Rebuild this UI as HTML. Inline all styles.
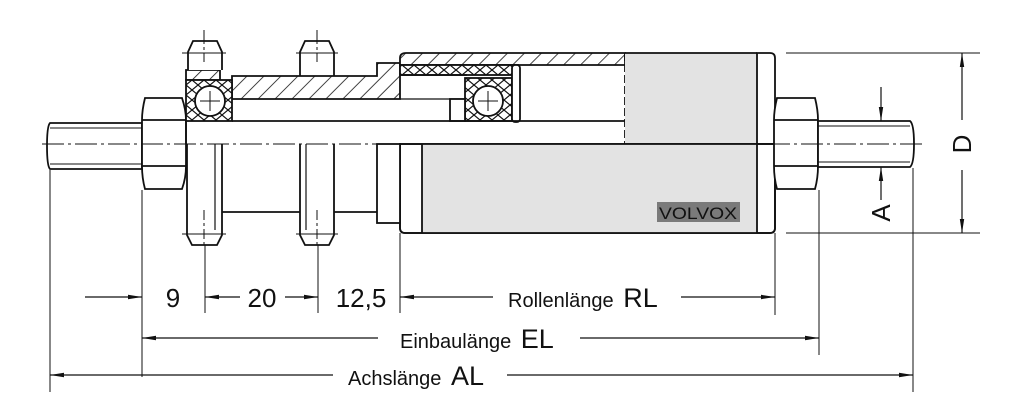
<!DOCTYPE html>
<html><head><meta charset="utf-8"><style>
html,body{margin:0;padding:0;background:#fff;width:1024px;height:414px;overflow:hidden}
svg{display:block}
text{font-family:"Liberation Sans",Arial,sans-serif;fill:#111}
</style></head><body>
<svg width="1024" height="414" viewBox="0 0 1024 414" xmlns="http://www.w3.org/2000/svg">
<defs>
<pattern id="h" width="12" height="12" patternUnits="userSpaceOnUse" patternTransform="rotate(45)">
<rect width="12" height="12" fill="#fff"/><line x1="0" y1="0" x2="0" y2="12" stroke="#111" stroke-width="1.6"/></pattern>
<pattern id="x" width="12" height="10" patternUnits="userSpaceOnUse">
<rect width="12" height="10" fill="#fff"/><path d="M0 0L12 10M12 0L0 10" stroke="#111" stroke-width="1.2"/></pattern>
<marker id="ar" markerWidth="14" markerHeight="6" refX="14" refY="3" orient="auto" markerUnits="userSpaceOnUse"><path d="M0 0.8L14 3L0 5.2Z" fill="#111"/></marker>
</defs>
<g stroke="#111" stroke-width="1.8" fill="none">
<!-- left stud -->
<path d="M50 123H142V169H50Q47 166 47 146Q47 126 50 123Z" fill="#fff"/>
<line x1="50" y1="128" x2="142" y2="128" stroke-width="1"/>
<line x1="50" y1="164" x2="142" y2="164" stroke-width="1"/>
<!-- left nut -->
<path d="M145 98H182Q186 110 186 120V166Q186 178 182 189H145Q142 178 142 166V120Q142 110 145 98Z" fill="#fff"/>
<line x1="142" y1="120" x2="186" y2="120"/><line x1="142" y1="166" x2="186" y2="166"/>
<!-- housing hatched -->
<path d="M232 76H377V63H400V99H232Z" fill="url(#h)"/>
<path d="M186 70H220V80H186Z" fill="url(#h)"/>
<!-- tube -->
<path d="M406 53H625V65H400V58Q400 53 406 53Z" fill="url(#h)"/>
<rect x="400" y="65" width="118" height="10" fill="url(#x)"/>
<line x1="400" y1="99" x2="467" y2="99" stroke-width="1.2"/>
<path d="M400 75H467" />
<!-- bearings -->
<rect x="186" y="80" width="46" height="41" fill="url(#x)"/>
<circle cx="210" cy="101" r="15" fill="#fff"/>
<rect x="465" y="78" width="47" height="43" fill="url(#x)"/>
<circle cx="488" cy="101" r="15" fill="#fff"/>
<rect x="450" y="99" width="15" height="22" fill="#fff"/>
<rect x="512" y="65" width="8" height="57" rx="3" fill="#fff"/>
<!-- inner bore -->
<line x1="232" y1="121" x2="625" y2="121"/>
<line x1="186" y1="121" x2="186" y2="144"/>
<line x1="625" y1="53" x2="625" y2="144" stroke-dasharray="8 3"/>
<!-- upper gray and end cap -->
<rect x="625" y="53" width="132" height="91" fill="#e3e3e3" stroke="none"/>
<path d="M757 53H770Q775 53 775 58V144H757Z" fill="#fff"/>
<line x1="625" y1="53" x2="757" y2="53"/>
<!-- lower body -->
<path d="M400 144H775V228Q775 233 770 233H405Q400 233 400 228Z" fill="#fff"/>
<rect x="422" y="144" width="335" height="89" fill="#e3e3e3" stroke="none"/>
<line x1="422" y1="144" x2="422" y2="233"/><line x1="757" y1="144" x2="757" y2="233"/>
<path d="M400 144H775V228Q775 233 770 233H405Q400 233 400 228Z"/>
<rect x="377" y="144" width="23" height="79" fill="#fff"/>
<line x1="222" y1="212" x2="300" y2="212"/><line x1="334" y1="212" x2="377" y2="212"/>
<!-- nipples top -->
<path d="M188 70V52L193 41H217L222 52V70" fill="#fff"/>
<path d="M300 70V52L305 41H329L334 52V70" fill="#fff"/>
<line x1="300" y1="76" x2="300" y2="70"/><line x1="334" y1="76" x2="334" y2="70"/>
<!-- stems bottom -->
<path d="M187 144V235L192 245H217L222 235V144" fill="#fff"/>
<line x1="215" y1="144" x2="215" y2="230" stroke-width="1.2"/>
<path d="M300 144V235L305 245H329L334 235V144" fill="#fff"/>
<line x1="306" y1="144" x2="306" y2="230" stroke-width="1.2"/>
<!-- right nut -->
<path d="M777 98H815Q818 110 818 120V166Q818 178 815 189H777Q774 178 774 166V120Q774 110 777 98Z" fill="#fff"/>
<line x1="774" y1="120" x2="818" y2="120"/><line x1="774" y1="166" x2="818" y2="166"/>
<path d="M818 121H910Q914 124 914 144Q914 164 910 167H818Z" fill="#fff"/>
<line x1="818" y1="126" x2="910" y2="126" stroke-width="1"/>
<line x1="818" y1="162" x2="910" y2="162" stroke-width="1"/>
</g>
<!-- centerlines -->
<g stroke="#111" stroke-width="1" fill="none">
<line x1="42" y1="144" x2="922" y2="144" stroke-dasharray="22 4 3 4"/>
<line x1="204" y1="30" x2="204" y2="62" stroke-dasharray="14 3 3 3"/>
<line x1="317" y1="30" x2="317" y2="62" stroke-dasharray="14 3 3 3"/>
<line x1="204" y1="210" x2="204" y2="245" stroke-dasharray="10 3 3 3"/>
<line x1="317" y1="210" x2="317" y2="245" stroke-dasharray="10 3 3 3"/>
<line x1="182" y1="53" x2="226" y2="53"/><line x1="296" y1="53" x2="338" y2="53"/>
<line x1="182" y1="234" x2="226" y2="234"/><line x1="296" y1="234" x2="338" y2="234"/>
<path d="M200 101h20M210 91v20M478 101h20M488 91v20"/>
<!-- extension lines -->
<path d="M50 170V392M142 190V377M205 245V313M318 245V313M400 233V313M775 233V315M819 190V355M913 168V392"/>
<path d="M786 53H980M786 233H980"/>
</g>
<!-- dimension lines -->
<g stroke="#111" stroke-width="1.2" fill="none">
<line x1="85" y1="297" x2="142" y2="297" marker-end="url(#ar)"/>
<line x1="240" y1="297" x2="205" y2="297" marker-end="url(#ar)"/>
<line x1="285" y1="297" x2="318" y2="297" marker-end="url(#ar)"/>
<line x1="493" y1="297" x2="400" y2="297" marker-end="url(#ar)"/>
<line x1="681" y1="297" x2="775" y2="297" marker-end="url(#ar)"/>
<line x1="378" y1="338" x2="142" y2="338" marker-end="url(#ar)"/>
<line x1="580" y1="338" x2="819" y2="338" marker-end="url(#ar)"/>
<line x1="333" y1="375" x2="50" y2="375" marker-end="url(#ar)"/>
<line x1="507" y1="375" x2="913" y2="375" marker-end="url(#ar)"/>
<line x1="962" y1="120" x2="962" y2="53" marker-end="url(#ar)"/>
<line x1="962" y1="170" x2="962" y2="233" marker-end="url(#ar)"/>
<line x1="881" y1="87" x2="881" y2="121" marker-end="url(#ar)"/>
<line x1="881" y1="200" x2="881" y2="167" marker-end="url(#ar)"/>
</g>
<!-- VOLVOX -->
<rect x="657" y="202" width="83" height="20" fill="#7a7a7a"/>
<text x="698" y="219" font-size="17" text-anchor="middle" fill="#222" textLength="78" lengthAdjust="spacingAndGlyphs">VOLVOX</text>
<!-- labels -->
<text x="173" y="307" font-size="26" text-anchor="middle">9</text>
<text x="262" y="307" font-size="26" text-anchor="middle">20</text>
<text x="361" y="307" font-size="26" text-anchor="middle">12,5</text>
<text x="508" y="307" font-size="20">Rollenlänge <tspan font-size="27" dx="4">RL</tspan></text>
<text x="400" y="348" font-size="20">Einbaulänge <tspan font-size="27" dx="4">EL</tspan></text>
<text x="348" y="385" font-size="20">Achslänge <tspan font-size="27" dx="4">AL</tspan></text>
<text transform="translate(971,144) rotate(-90)" font-size="26" text-anchor="middle">D</text>
<text transform="translate(890,213) rotate(-90)" font-size="26" text-anchor="middle">A</text>
</svg>
</body></html>
